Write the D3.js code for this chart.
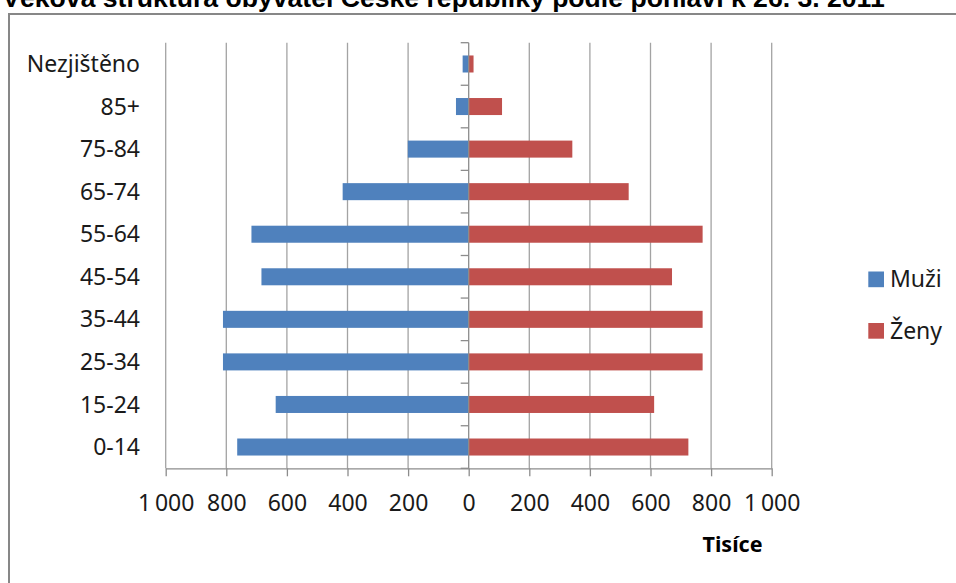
<!DOCTYPE html>
<html><head><meta charset="utf-8">
<script src="https://cdn.jsdelivr.net/npm/d3@7"></script>
<style>html,body{margin:0;padding:0;background:#fff;overflow:hidden}</style>
</head><body><svg id="c" width="956" height="583"></svg>
<script>
const categories = ["0-14","15-24","25-34","35-44","45-54","55-64","65-74","75-84","85+","Nezjištěno"];
const muzi = [764,637,811,811,684,717,416,201,42,20];
const zeny = [725,612,772,772,671,772,528,342,110,16];
const xTicks = [-1000,-800,-600,-400,-200,0,200,400,600,800,1000];
const seriesNames = ["Muži","Ženy"];
const seriesColors = ["#4F81BD","#C0504D"];
const titleText = "Věková struktura obyvatel České republiky podle pohlaví k 26. 3. 2011";
const axisTitle = "Tisíce";

const svg = d3.select("#c");
const font = "'Noto Sans', 'Open Sans', sans-serif";
const pLeft = 165.7, pRight = 771.7, pTop = 42.7, pBottom = 468.3;

// chart frame
svg.append("rect").attr("x",9).attr("y",14).attr("width",960).attr("height",600)
  .attr("fill","#fff").attr("stroke","#878787").attr("stroke-width",2);

// title (partly cut off at the top)
svg.append("text").attr("x",443.5).attr("y",7).attr("text-anchor","middle")
  .attr("font-family","'Liberation Sans', Arial, sans-serif").attr("font-weight","bold")
  .attr("font-size",26.6).attr("fill","#000").text(titleText);

const x = d3.scaleLinear().domain([-1000,1000]).range([pLeft,pRight]);
const y = d3.scaleBand().domain(categories.slice().reverse()).range([pTop,pBottom])
  .paddingInner(0.6).paddingOuter(0.3);

// gridlines
svg.append("g").selectAll("line").data(xTicks.filter(d=>d!==0)).join("line")
  .attr("x1",d=>x(d)).attr("x2",d=>x(d)).attr("y1",pTop).attr("y2",pBottom)
  .attr("stroke","#a3a3a3").attr("stroke-width",1.3);

const fmt = d => { const a = Math.abs(d); return a >= 1000 ? Math.floor(a/1000) + "\u2009" + String(a%1000).padStart(3,"0") : String(a); };

// bars
const rows = categories.map((c,i)=>({c, m: muzi[i], z: zeny[i]}));
svg.append("g").selectAll("rect").data(rows).join("rect")
  .attr("x",d=>x(-d.m)).attr("width",d=>x(0)-x(-d.m))
  .attr("y",d=>y(d.c)).attr("height",y.bandwidth()).attr("fill",seriesColors[0]);
svg.append("g").selectAll("rect").data(rows).join("rect")
  .attr("x",x(0)).attr("width",d=>x(d.z)-x(0))
  .attr("y",d=>y(d.c)).attr("height",y.bandwidth()).attr("fill",seriesColors[1]);

// x axis
const xa = svg.append("g").attr("transform",`translate(0,${pBottom})`)
  .call(d3.axisBottom(x).tickValues(xTicks).tickSize(8).tickSizeOuter(0).tickFormat(fmt));
xa.select(".domain").attr("stroke","#8c8c8c").attr("stroke-width",1.3);
xa.selectAll(".tick line").attr("stroke","#8c8c8c").attr("stroke-width",1.3);
xa.selectAll(".tick text").attr("y",42.7).attr("dy",0)
  .attr("font-family",font).attr("font-size",23).attr("fill","#1a1a1a");

// vertical axis at zero with category boundary ticks
const step = y.step();
const bounds = categories.map(c => y(c) - step*y.paddingInner()/2).concat([pBottom]);
const ya = svg.append("g");
ya.append("line").attr("x1",x(0)).attr("x2",x(0)).attr("y1",pTop).attr("y2",pBottom)
  .attr("stroke","#8c8c8c").attr("stroke-width",1.3);
ya.selectAll("line.t").data(bounds).join("line").attr("class","t")
  .attr("x1",x(0)-8).attr("x2",x(0)).attr("y1",d=>d).attr("y2",d=>d)
  .attr("stroke","#8c8c8c").attr("stroke-width",1.3);

// category labels
const la = svg.append("g").attr("transform","translate(140,0)")
  .call(d3.axisLeft(y).tickSize(0).tickPadding(0));
la.select(".domain").remove();
la.selectAll(".tick text").attr("font-family",font).attr("font-size",23)
  .attr("fill","#1a1a1a").attr("dy","0.35em");

// axis title
svg.append("text").attr("x",732.5).attr("y",551.7).attr("text-anchor","middle")
  .attr("font-family",font).attr("font-weight","bold").attr("font-size",21.5)
  .attr("fill","#000").text(axisTitle);

// legend
const lg = svg.append("g").selectAll("g").data(seriesNames).join("g")
  .attr("transform",(d,i)=>`translate(868.3,${271.5 + i*51.5})`);
lg.append("rect").attr("width",15.7).attr("height",15.7).attr("fill",(d,i)=>seriesColors[i]);
lg.append("text").attr("x",21.7).attr("y",15.5).attr("font-family",font).attr("font-size",23)
  .attr("fill","#1a1a1a").text(d=>d);
</script></body></html>
